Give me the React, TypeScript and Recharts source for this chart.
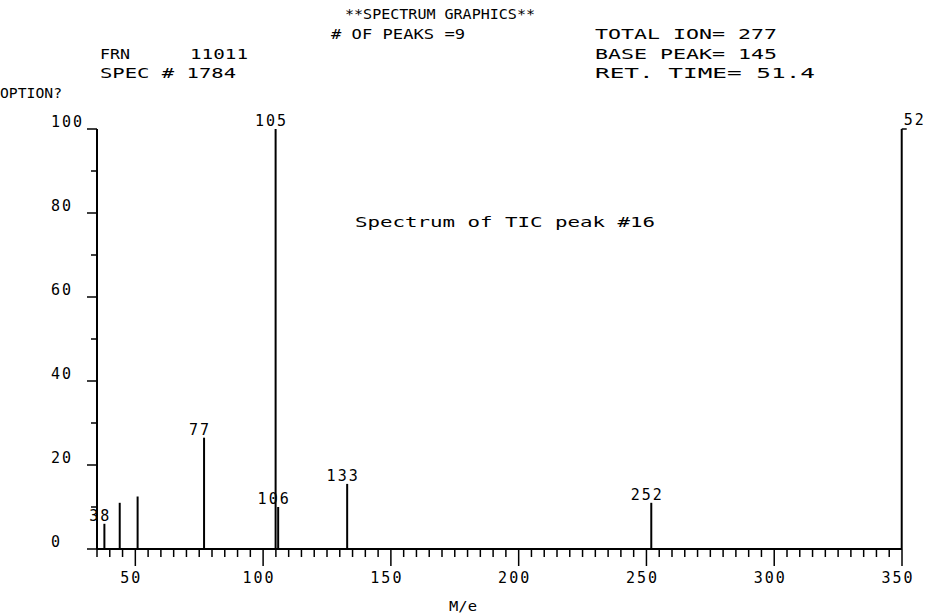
import React from "react";
import { ComposedChart, Bar, XAxis, YAxis } from "recharts";

// Peaks (m/z, relative abundance, printed label)
const PEAK_MZ = [38, 44, 51, 77, 105, 106, 133, 252, 352];
const PEAK_INTENSITY = [6, 11, 12.5, 26.5, 100, 10, 15.5, 11, 100];
const PEAK_LABELS = ["38", "", "", "77", "105", "106", "133", "252", "52"];

const X_MIN = 35;
const X_MAX = 350;
const X_LABELS = [50, 100, 150, 200, 250, 300, 350];
const Y_LABELS = [0, 20, 40, 60, 80, 100];

const xTicks: number[] = [];
for (let v = X_MIN; v <= X_MAX; v += 5) xTicks.push(v);
const yTicks: number[] = [];
for (let v = 0; v <= 100; v += 10) yTicks.push(v);

const FONT = "'DejaVu Sans Mono', monospace";

const rows = PEAK_MZ.map((mz, i) => ({
  mz: Math.min(mz, X_MAX), // instrument clips peaks past the axis end
  intensity: PEAK_INTENSITY[i],
  label: PEAK_LABELS[i],
  overflow: mz > X_MAX,
}));

function Peak(props: any) {
  const { x, y, width, height, payload } = props;
  const cx = x + width / 2;
  const base = y + height;
  return (
    <g>
      <line x1={cx} x2={cx} y1={y} y2={base} stroke="#000" strokeWidth={2} />
      {payload.overflow && (
        <line x1={cx} x2={cx + 5} y1={y} y2={y} stroke="#000" strokeWidth={1.5} />
      )}
      {payload.label && (
        <text
          x={payload.overflow ? cx + 2 : cx - 4}
          y={payload.overflow ? y - 4 : y - 3}
          textAnchor={payload.overflow ? "start" : "middle"}
          fontFamily={FONT}
          fontSize={15}
          letterSpacing={2}
          fill="#000"
        >
          {payload.label}
        </text>
      )}
    </g>
  );
}

function XTick(props: any) {
  const { x, y, payload } = props;
  const major = X_LABELS.includes(payload.value);
  return (
    <g>
      <line x1={x} x2={x} y1={y} y2={y + (major ? 17 : 8)} stroke="#000" strokeWidth={1.5} />
      {major && (
        <text x={x - 4} y={y + 34} textAnchor="middle" fontFamily={FONT} fontSize={15} letterSpacing={2} fill="#000">
          {payload.value}
        </text>
      )}
    </g>
  );
}

function YTick(props: any) {
  const { x, y, payload } = props;
  const major = Y_LABELS.includes(payload.value);
  return (
    <g>
      <line x1={x - (major ? 10 : 6)} x2={x} y1={y} y2={y} stroke="#000" strokeWidth={1.5} />
      {major && (
        <text x={x - 46} y={y - 2} textAnchor="start" fontFamily={FONT} fontSize={15} letterSpacing={2} fill="#000">
          {payload.value}
        </text>
      )}
    </g>
  );
}

const HEADER = [
  { t: "**SPECTRUM GRAPHICS**", x: 345, y: 19, w: 190 },
  { t: "# OF PEAKS =9", x: 331, y: 39, w: 134 },
  { t: "TOTAL ION= 277", x: 595, y: 39, w: 182 },
  { t: "FRN", x: 100, y: 59, w: 30 },
  { t: "11011", x: 190, y: 59, w: 58 },
  { t: "BASE PEAK= 145", x: 595, y: 59, w: 182 },
  { t: "SPEC # 1784", x: 100, y: 78, w: 136 },
  { t: "RET. TIME= 51.4", x: 595, y: 78, w: 220 },
  { t: "OPTION?", x: 0, y: 98, w: 62 },
  { t: "Spectrum of TIC peak #16", x: 355, y: 227, w: 300 },
  { t: "M/e", x: 449, y: 611, w: 28 },
];

export default function App() {
  return (
    <div style={{ position: "absolute", left: 0, top: 0, width: 933, height: 616, background: "#fff" }}>
      <ComposedChart
        width={933}
        height={616}
        data={rows}
        margin={{ top: 129, right: 31, bottom: 0, left: 0 }}
      >
        <XAxis
          dataKey="mz"
          type="number"
          domain={[X_MIN, X_MAX]}
          ticks={xTicks}
          interval={0}
          height={67}
          tickSize={0}
          tickMargin={0}
          tickLine={false}
          axisLine={{ stroke: "#000", strokeWidth: 2 }}
          tick={<XTick />}
        />
        <YAxis
          type="number"
          domain={[0, 100]}
          ticks={yTicks}
          interval={0}
          width={97}
          tickSize={0}
          tickMargin={0}
          tickLine={false}
          axisLine={{ stroke: "#000", strokeWidth: 2 }}
          tick={<YTick />}
        />
        <Bar dataKey="intensity" barSize={2} shape={<Peak />} isAnimationActive={false} />
      </ComposedChart>
      <svg
        width={933}
        height={616}
        style={{ position: "absolute", left: 0, top: 0, pointerEvents: "none" }}
      >
        {HEADER.map((h) => (
          <text
            key={h.t}
            x={h.x}
            y={h.y}
            textLength={h.w}
            lengthAdjust="spacingAndGlyphs"
            fontFamily={FONT}
            fontSize={14}
            fill="#000"
          >
            {h.t}
          </text>
        ))}
      </svg>
    </div>
  );
}
